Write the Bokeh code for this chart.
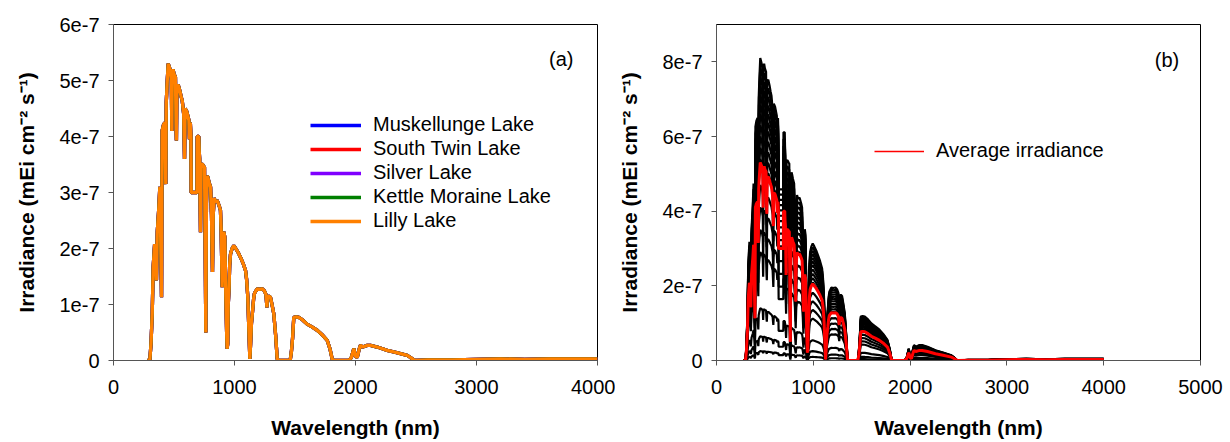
from bokeh.plotting import figure
from bokeh.models import (ColumnDataSource, Range1d, FixedTicker, CustomJSTickFormatter,
                          Legend, LegendItem, Label)
from bokeh.layouts import row
from bokeh.embed import file_html
from bokeh.resources import INLINE

# ---------------- data ----------------
wavelength_nm = [
    280, 300, 310, 320, 328, 340, 348, 355, 362, 375, 383, 390, 397, 402, 412, 424, 430, 432,
    436, 443, 452, 460, 470, 478, 482, 486, 492, 500, 512, 517, 520, 524, 535, 548, 558, 568,
    580, 587, 592, 605, 623, 628, 635, 640, 642, 690, 692, 705, 708, 712, 719, 724, 733, 745,
    752, 758, 763, 768, 775, 780, 790, 802, 810, 818, 824, 832, 843, 855, 862, 875, 884, 890,
    898, 905, 912, 920, 928, 935, 939, 944, 948, 955, 960, 967, 980, 994, 1010, 1030, 1050,
    1070, 1091, 1100, 1110, 1118, 1127, 1133, 1140, 1150, 1158, 1165, 1187, 1205, 1229, 1245,
    1260, 1268, 1272, 1285, 1297, 1310, 1325, 1340, 1353, 1365, 1460, 1470, 1480, 1490, 1510,
    1532, 1565, 1600, 1640, 1683, 1720, 1766, 1790, 1807, 1820, 1945, 1965, 1986, 2000, 2014,
    2030, 2041, 2060, 2097, 2124, 2180, 2262, 2340, 2427, 2450, 2482, 2500, 2600, 2800, 3000,
    3200, 3400, 3600, 3800, 4000,
]

# irradiance of the lakes, in units of 1e-7 mEi cm-2 s-1
lake_irradiance_e7 = [
    0.0, 0.0, 0.3, 0.84, 1.67, 2.08, 1.9, 1.43, 2.3, 2.74, 3.1, 2.2, 1.13, 4.1, 4.2, 4.25, 3.4, 3.15,
    4.6, 4.94, 5.30, 5.25, 5.18, 5.0, 4.1, 5.15, 5.2, 5.12, 5.06, 4.2, 3.93, 4.9, 4.92, 4.82, 4.72, 4.64,
    4.4, 3.6, 4.5, 4.45, 4.29, 3.95, 4.25, 4.0, 3.0, 3.0, 4.0, 4.0, 3.75, 3.6, 2.29, 3.5, 3.51, 3.47,
    3.45, 2.0, 0.5, 2.8, 3.3, 3.27, 3.18, 3.1, 2.6, 1.58, 2.6, 2.9, 2.83, 2.86, 2.83, 2.75, 2.68, 2.3,
    1.31, 2.1, 2.3, 2.2, 1.2, 0.5, 0.21, 0.3, 0.98, 1.3, 1.7, 1.9, 2.0, 2.05, 2.0, 1.93, 1.84,
    1.74, 1.61, 1.45, 1.13, 0.6, 0.03, 0.3, 0.66, 0.9, 1.1, 1.2, 1.28, 1.27, 1.28, 1.25,
    1.18, 0.95, 1.13, 1.15, 1.13, 1.0, 0.83, 0.45, 0.03, 0.0, 0.0, 0.15, 0.4, 0.77, 0.78,
    0.77, 0.72, 0.65, 0.6, 0.54, 0.47, 0.36, 0.2, 0.03, 0.0, 0.0, 0.05, 0.21, 0.08, 0.05,
    0.2, 0.27, 0.24, 0.27, 0.27, 0.24, 0.18, 0.14, 0.09, 0.06, 0.01, 0.0, 0.01, 0.01, 0.02,
    0.03, 0.02, 0.03, 0.03, 0.03,
]

lakes = ["Muskellunge Lake", "South Twin Lake", "Silver Lake", "Kettle Moraine Lake", "Lilly Lake"]
lake_colors = ["#0000FF", "#FF0000", "#8000FF", "#008000", "#FF8000"]

# panel (b): average irradiance and peak (at ~480 nm) of each individual recording, 1e-7 units
average_irradiance_e7 = list(lake_irradiance_e7)
recording_peaks_e7 = [8.1, 7.85, 7.6, 7.35, 7.1, 6.85, 6.6, 6.3, 6.0, 5.7, 5.4, 4.7, 4.1,
                      3.5, 2.9, 1.4, 0.65, 0.25]

y_ticks_a = [0, 1e-7, 2e-7, 3e-7, 4e-7, 5e-7, 6e-7]
y_ticks_b = [0, 2e-7, 4e-7, 6e-7, 8e-7]
x_ticks_a = [0, 1000, 2000, 3000, 4000]
x_ticks_b = [0, 1000, 2000, 3000, 4000, 5000]

E7 = 1e-7
FONT = "Liberation Sans"
YLABEL = "Irradiance (mEi cm\u207b\u00b2 s\u207b\u00b9)"

fmt_code = "return tick == 0 ? '0' : Math.round(tick * 1e7) + 'e-7';"


def style(p, xt, yt):
    p.xgrid.visible = False
    p.ygrid.visible = False
    p.outline_line_color = "black"
    p.outline_line_width = 1
    p.background_fill_color = "white"
    p.border_fill_color = "white"
    p.xaxis.ticker = FixedTicker(ticks=xt)
    p.yaxis.ticker = FixedTicker(ticks=yt)
    p.yaxis.formatter = CustomJSTickFormatter(code=fmt_code)
    for ax in (p.xaxis, p.yaxis):
        ax.minor_tick_line_color = None
        ax.major_tick_out = 5
        ax.major_tick_in = 0
        ax.axis_line_color = "#555555"
        ax.major_tick_line_color = "#555555"
        ax.major_label_text_font = FONT
        ax.major_label_text_font_size = "20px"
        ax.major_label_text_color = "black"
        ax.axis_label_text_font = FONT
        ax.axis_label_text_font_size = "21px"
        ax.axis_label_text_font_style = "bold"
        ax.axis_label_text_color = "black"
    p.xaxis.axis_label = "Wavelength (nm)"
    p.yaxis.axis_label = YLABEL
    p.xaxis.major_label_standoff = 14
    p.xaxis.axis_label_standoff = 19
    p.yaxis.major_label_standoff = 9
    p.yaxis.axis_label_standoff = 18


def legend(items, loc):
    return Legend(items=items, location=loc, border_line_alpha=0, background_fill_alpha=0,
                  padding=0, margin=0, glyph_width=51, glyph_height=20, label_height=20,
                  spacing=1, label_standoff=12, label_text_font=FONT,
                  label_text_font_size="20px", label_text_color="black")


# ---------------- panel (a) ----------------
p1 = figure(width=615, height=442, x_range=Range1d(0, 4000), y_range=Range1d(0, 6e-7),
            output_backend="svg", toolbar_location=None,
            min_border_left=113, min_border_right=18, min_border_top=24, min_border_bottom=82)
style(p1, x_ticks_a, y_ticks_a)

lake_y = [v * E7 for v in lake_irradiance_e7]
items = []
for name, col in zip(lakes, lake_colors):
    src = ColumnDataSource(dict(x=wavelength_nm, y=lake_y))
    r = p1.line("x", "y", source=src, line_color=col, line_width=3.3)
    items.append(LegendItem(label=name, renderers=[r]))

p1.add_layout(legend(items, (197, 128)))
p1.add_layout(Label(x=3700, y=5.39e-7, text="(a)", text_align="center", text_baseline="middle",
                    text_font=FONT, text_font_size="20px", text_color="black"))

# ---------------- panel (b) ----------------
p2 = figure(width=615, height=442, x_range=Range1d(0, 5000), y_range=Range1d(0, 9e-7),
            output_backend="svg", toolbar_location=None,
            min_border_left=100, min_border_right=30, min_border_top=22, min_border_bottom=81)
style(p2, x_ticks_b, y_ticks_b)

avg_peak = max(average_irradiance_e7)
xs = [wavelength_nm for _ in recording_peaks_e7]
ys = [[v * pk / avg_peak * E7 for v in average_irradiance_e7] for pk in recording_peaks_e7]
p2.multi_line(xs=xs, ys=ys, line_color="black", line_width=2.2)

avg_src = ColumnDataSource(dict(x=wavelength_nm, y=[v * E7 for v in average_irradiance_e7]))
thin = p2.line("x", "y", source=avg_src, line_color="#FF0000", line_width=1.5)
p2.line("x", "y", source=avg_src, line_color="#FF0000", line_width=3)
leg2 = legend([LegendItem(label="Average irradiance", renderers=[thin])], (158, 198))
leg2.glyph_width = 50
p2.add_layout(leg2)
p2.add_layout(Label(x=4654, y=8.04e-7, text="(b)", text_align="center", text_baseline="middle",
                    text_font=FONT, text_font_size="20px", text_color="black"))

layout = row(p1, p2)
open("out.html", "w").write(file_html(layout, INLINE))
